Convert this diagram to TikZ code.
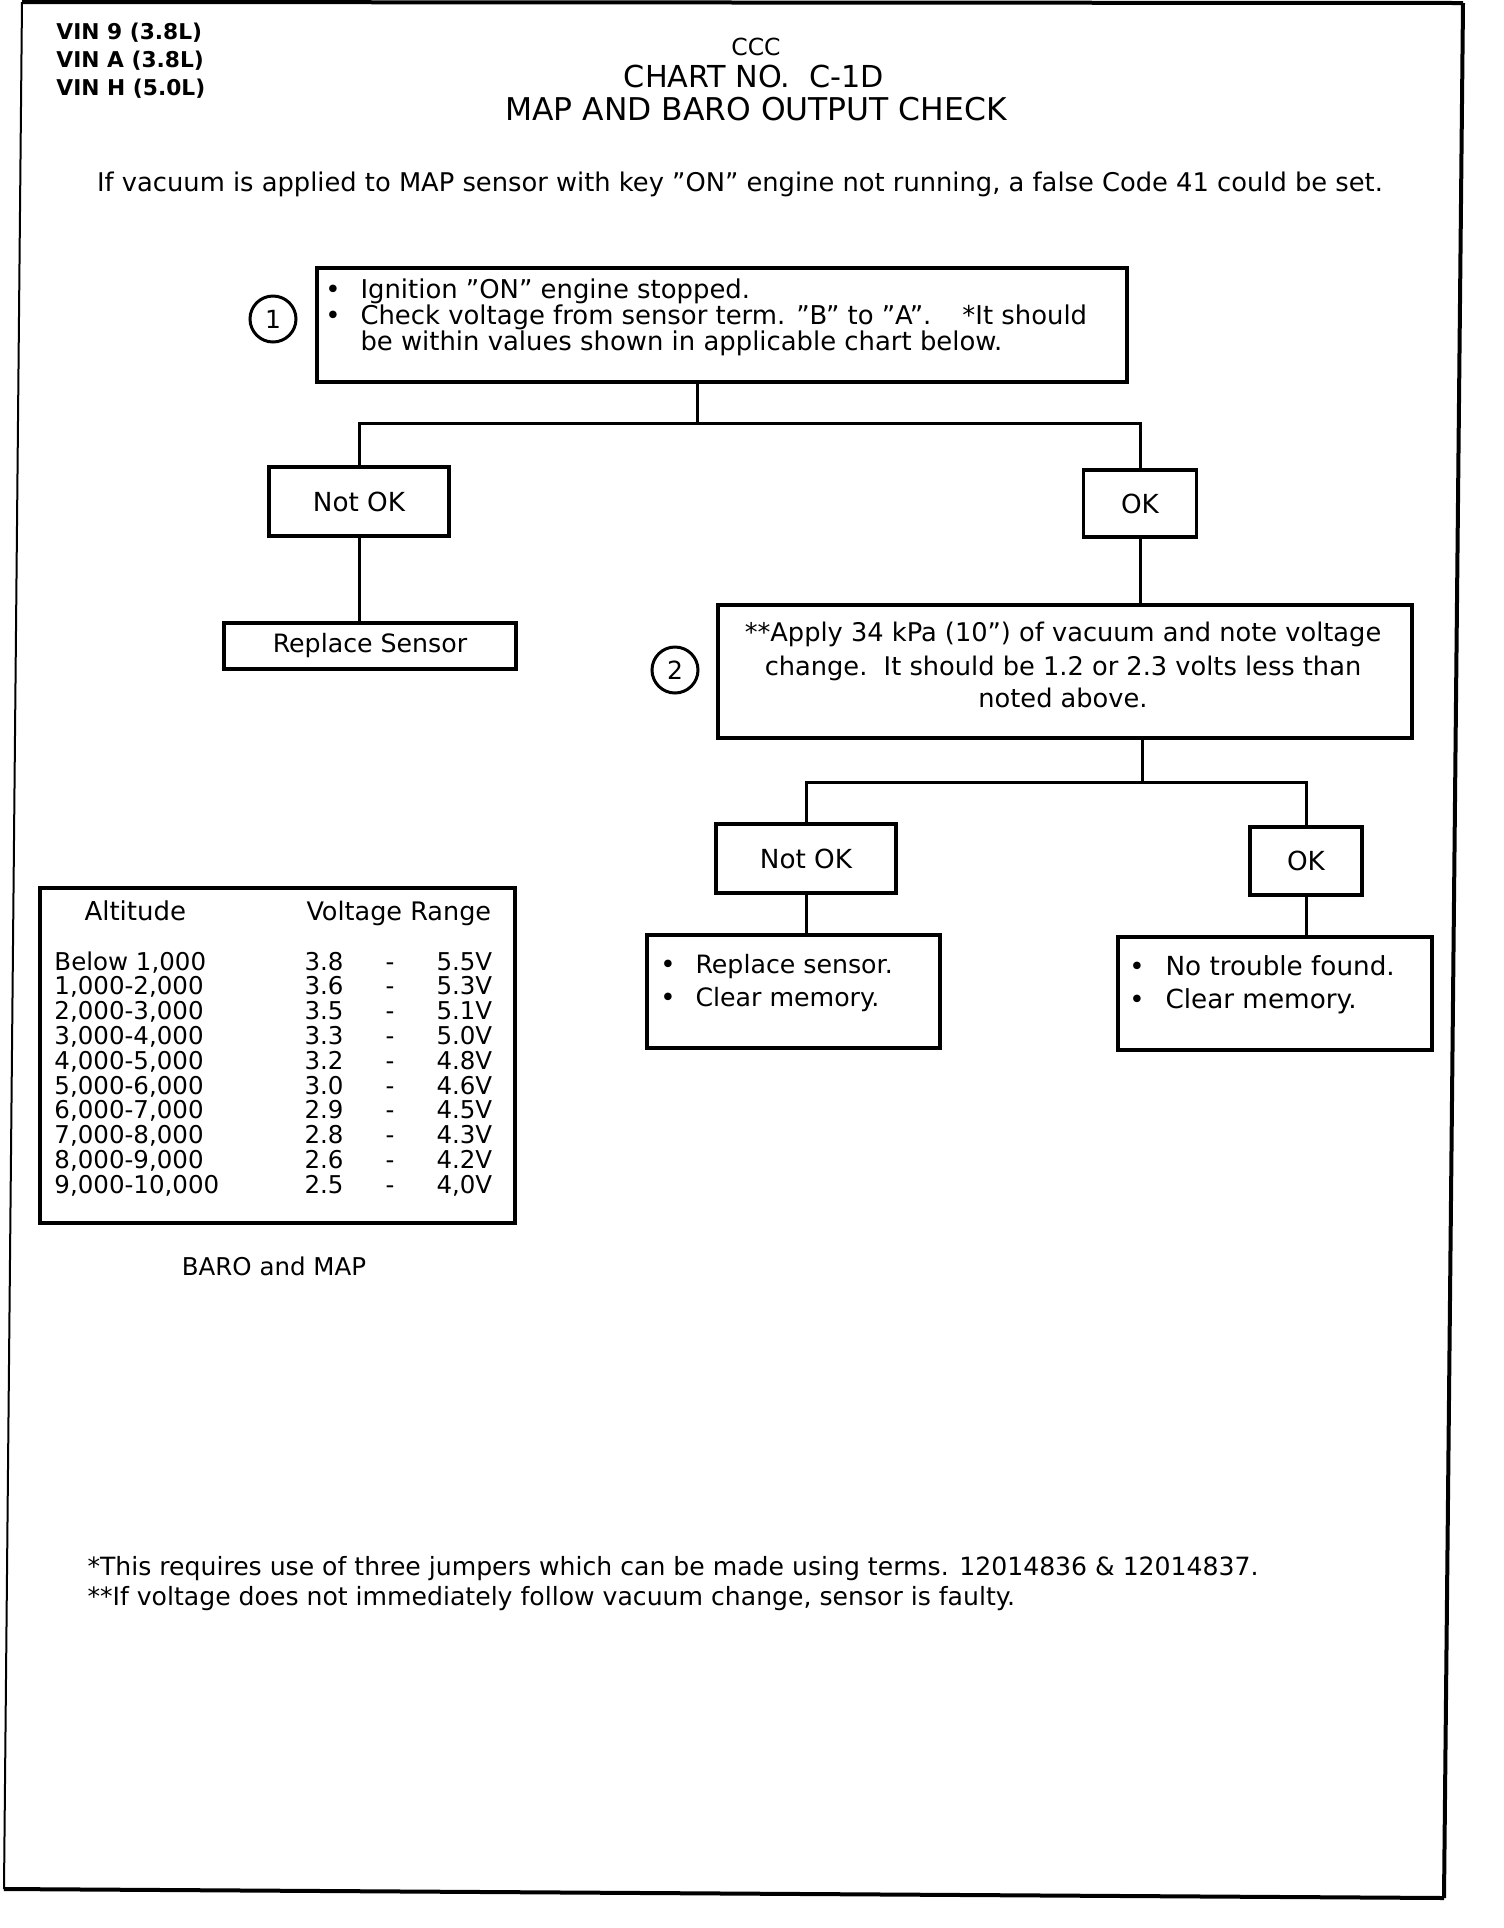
\documentclass[tikz,border=0pt]{standalone}
\usepackage{fontspec}
\setmainfont{DejaVu Sans}
\tikzset{
  chartbox/.style={draw,line width=1.4pt,inner sep=0pt,font=\fontsize{10.5}{12}\selectfont},
  link/.style={line width=1.2pt},
  stepmark/.style={draw,circle,line width=1.2pt,minimum size=18.4pt,inner sep=0pt,font=\fontsize{10}{12}\selectfont},
  txt/.style={inner sep=0pt,font=\fontsize{10.35}{12}\selectfont},
  cell/.style={inner sep=0pt,font=\fontsize{9.8}{12}\selectfont},
  vin/.style={inner sep=0pt,anchor=base west,font=\bfseries\fontsize{8.7}{10}\selectfont}
}
\begin{document}
\begin{tikzpicture}[x=0.4pt,y=-0.4pt]
  \useasboundingbox (0,0) rectangle (1504,1928);
  % frame of the page
  \coordinate (tl) at (22,2);
  \coordinate (tr) at (1463,3);
  \coordinate (br) at (1444,1898);
  \coordinate (bl) at (4,1889);
  \draw[line width=1.6pt] (tl) -- (tr);
  \draw[line width=1.6pt] (tr) -- (br);
  \draw[line width=1.6pt] (br) -- (bl);
  \draw[line width=0.8pt] (bl) -- (tl);
  % heading
  \node[vin] (vin9) at (56,39) {VIN 9 (3.8L)};
  \node[vin] (vina) at (56,67) {VIN A (3.8L)};
  \node[vin] (vinh) at (56,95) {VIN H (5.0L)};
  \node[inner sep=0pt,anchor=base,font=\fontsize{9.4}{11}\selectfont] (ccc) at (756,55) {CCC};
  \node[inner sep=0pt,anchor=base,font=\fontsize{12.1}{14}\selectfont] (chartno) at (754,87) {CHART NO.~~C-1D};
  \node[inner sep=0pt,anchor=base,font=\fontsize{12.55}{15}\selectfont] (title) at (756,120) {MAP AND BARO OUTPUT CHECK};
  \node[txt,anchor=base,font=\fontsize{10.3}{12}\selectfont] (warn) at (740,191) {If vacuum is applied to MAP sensor with key "ON" engine not running, a false Code 41 could be set.};
  % step 1
  \node[chartbox,minimum width=324pt,minimum height=45.6pt] (check) at (722,325) {};
  \node[stepmark] (step1) at (273,319) {1};
  \node[txt,anchor=base] (bul1a) at (333,298) {•};
  \node[txt,anchor=base] (bul1b) at (333,324) {•};
  \node[txt,anchor=base west] (l1a) at (360,298) {Ignition "ON" engine stopped.};
  \node[txt,anchor=base west] (l1b) at (360,324) {Check voltage from sensor term. "B" to "A".\hspace{1.2em}*It should};
  \node[txt,anchor=base west] (l1c) at (360,350) {be within values shown in applicable chart below.};
  \node[chartbox,minimum width=72pt,minimum height=27.6pt] (notok1) at (359,501.5) {Not OK};
  \node[chartbox,minimum width=45.2pt,minimum height=26.8pt] (ok1) at (1140,503.5) {OK};
  \node[chartbox,minimum width=116.8pt,minimum height=18.4pt,font=\fontsize{10.1}{12}\selectfont] (replace1) at (370,646) {Replace Sensor};
  \coordinate (j1) at (697,423);
  \draw[link] (j1 |- check.south) -- (j1);
  \draw[link] (notok1.north) |- (j1) -| (ok1.north);
  \draw[link] (notok1.south) -- (notok1.south |- replace1.north);
  % step 2
  \node[chartbox,minimum width=277.6pt,minimum height=53.2pt] (vacuum) at (1065,671.5) {};
  \node[stepmark] (step2) at (675,670) {2};
  \node[txt,anchor=base,font=\fontsize{10.27}{12}\selectfont] (l2a) at (1063,641) {**Apply 34 kPa (10") of vacuum and note voltage};
  \node[txt,anchor=base,font=\fontsize{10.27}{12}\selectfont] (l2b) at (1063,675) {change.\ \ It should be 1.2 or 2.3 volts less than};
  \node[txt,anchor=base,font=\fontsize{10.27}{12}\selectfont] (l2c) at (1063,707) {noted above.};
  \draw[link] (ok1.south) -- (ok1.south |- vacuum.north);
  \node[chartbox,minimum width=72pt,minimum height=27.6pt] (notok2) at (806,858.5) {Not OK};
  \node[chartbox,minimum width=44.8pt,minimum height=27.2pt] (ok2) at (1306,861) {OK};
  \coordinate (j2) at (1142,782);
  \draw[link] (j2 |- vacuum.south) -- (j2);
  \draw[link] (notok2.north) |- (j2) -| (ok2.north);
  \node[chartbox,minimum width=117.2pt,minimum height=45.2pt] (replace2) at (793.5,991.5) {};
  \node[chartbox,minimum width=125.6pt,minimum height=45.2pt] (notfound) at (1275,993.5) {};
  \draw[link] (notok2.south) -- (notok2.south |- replace2.north);
  \draw[link] (ok2.south) -- (ok2.south |- notfound.north);
  \node[txt,anchor=base] (bul3a) at (668,973) {•};
  \node[txt,anchor=base] (bul3b) at (668,1006) {•};
  \node[txt,anchor=base west,font=\fontsize{10.1}{12}\selectfont] (l3a) at (695,973) {Replace sensor.};
  \node[txt,anchor=base west,font=\fontsize{10.1}{12}\selectfont] (l3b) at (695,1006) {Clear memory.};
  \node[txt,anchor=base] (bul4a) at (1137,975) {•};
  \node[txt,anchor=base] (bul4b) at (1137,1008) {•};
  \node[txt,anchor=base west,font=\fontsize{10.5}{12}\selectfont] (l4a) at (1165,975) {No trouble found.};
  \node[txt,anchor=base west,font=\fontsize{10.5}{12}\selectfont] (l4b) at (1165,1008) {Clear memory.};
  % altitude chart
  \node[draw,line width=1.4pt,minimum width=190pt,minimum height=134pt] (chart) at (277.5,1055.5) {};
  \node[cell,anchor=base west,font=\fontsize{10.4}{12}\selectfont] (althead) at (84,920) {Altitude};
  \node[cell,anchor=base west,font=\fontsize{10.2}{12}\selectfont] (volthead) at (306,920) {Voltage Range};
  \foreach \alt/\lo/\hi [count=\r from 0] in {Below 1{,}000/3.8/5.5V, 1{,}000-2{,}000/3.6/5.3V,
      2{,}000-3{,}000/3.5/5.1V, 3{,}000-4{,}000/3.3/5.0V, 4{,}000-5{,}000/3.2/4.8V,
      5{,}000-6{,}000/3.0/4.6V, 6{,}000-7{,}000/2.9/4.5V, 7{,}000-8{,}000/2.8/4.3V,
      8{,}000-9{,}000/2.6/4.2V, 9{,}000-10{,}000/2.5/4{,}0V}{
    \node[cell,anchor=base west] (alt\r) at (54,970+24.8*\r) {\alt};
    \node[cell,anchor=base west] (lo\r) at (304,970+24.8*\r) {\lo};
    \node[cell,anchor=base] (dash\r) at (390,970+24.8*\r) {-};
    \node[cell,anchor=base west] (hi\r) at (436,970+24.8*\r) {\hi};
  }
  \node[cell,anchor=base] (baro) at (274,1275) {BARO and MAP};
  % notes
  \node[txt,anchor=base west,font=\fontsize{10.05}{12}\selectfont] (note1) at (87,1575) {*This requires use of three jumpers which can be made using terms. 12014836 \& 12014837.};
  \node[txt,anchor=base west,font=\fontsize{10.05}{12}\selectfont] (note2) at (87,1605) {**If voltage does not immediately follow vacuum change, sensor is faulty.};
\end{tikzpicture}
\end{document}
